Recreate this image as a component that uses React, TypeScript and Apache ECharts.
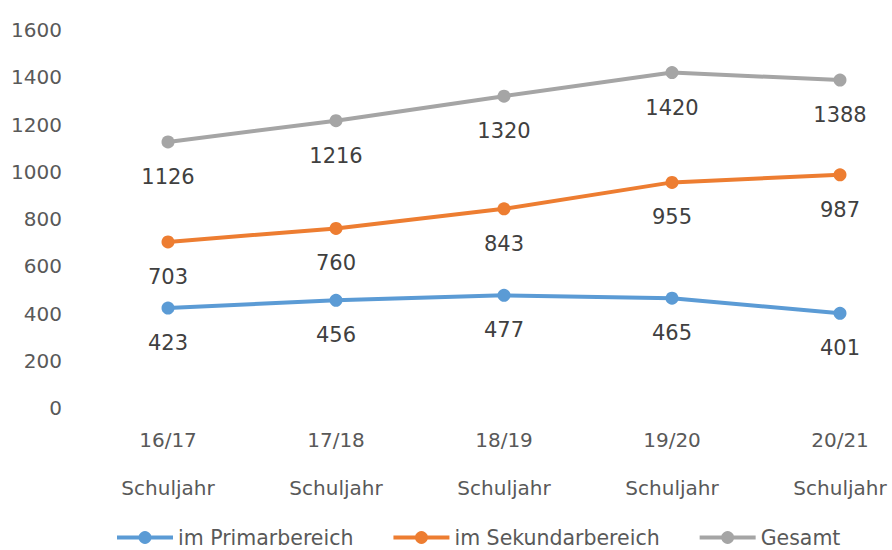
import React, { useEffect, useRef } from "react";
import * as echarts from "echarts";

const categories = ["16/17\nSchuljahr", "17/18\nSchuljahr", "18/19\nSchuljahr", "19/20\nSchuljahr", "20/21\nSchuljahr"];
const primar = [423, 456, 477, 465, 401];
const sekundar = [703, 760, 843, 955, 987];
const gesamt = [1126, 1216, 1320, 1420, 1388];
const seriesNames = ["im Primarbereich", "im Sekundarbereich", "Gesamt"];
const colors = ["#5B9BD5", "#ED7D31", "#A5A5A5"];

const FONT = "DejaVu Sans";

export default function App() {
  const ref = useRef<HTMLDivElement>(null);
  useEffect(() => {
    const chart = echarts.init(ref.current!, null, { renderer: "svg" });
    const mk = (name: string, data: number[], color: string) => ({
      name,
      type: "line",
      data,
      color,
      symbol: "circle",
      symbolSize: 13,
      lineStyle: { width: 4, color },
      itemStyle: { color },
      label: {
        show: true,
        position: "bottom",
        distance: 18,
        fontFamily: FONT,
        fontSize: 21,
        color: "#404040",
      },
    });
    chart.setOption({
      animation: false,
      backgroundColor: "#ffffff",
      textStyle: { fontFamily: FONT },
      grid: { left: 168, right: 52, top: 30, bottom: 142, containLabel: false },
      legend: {
        left: 115,
        top: 527,
        padding: 0,
        itemWidth: 56,
        itemHeight: 16,
        itemGap: 38,
        data: seriesNames,
        lineStyle: { width: 4 },
        textStyle: { fontFamily: FONT, fontSize: 20.5, color: "#595959" },
      },
      xAxis: {
        type: "category",
        data: categories,
        boundaryGap: false,
        axisLine: { show: false },
        axisTick: { show: false },
        splitLine: { show: false },
        axisLabel: {
          margin: 8,
          fontFamily: FONT,
          fontSize: 20,
          lineHeight: 48,
          color: "#595959",
        },
      },
      yAxis: {
        type: "value",
        min: 0,
        max: 1600,
        interval: 200,
        axisLine: { show: false },
        axisTick: { show: false },
        splitLine: { show: false },
        axisLabel: {
          margin: 106,
          fontFamily: FONT,
          fontSize: 20,
          color: "#595959",
          formatter: (v: number) => String(v),
        },
      },
      series: [
        mk(seriesNames[0], primar, colors[0]),
        mk(seriesNames[1], sekundar, colors[1]),
        mk(seriesNames[2], gesamt, colors[2]),
      ],
    });
    return () => chart.dispose();
  }, []);
  return <div ref={ref} style={{ width: 892, height: 550, position: "absolute", left: 0, top: 0 }} />;
}
